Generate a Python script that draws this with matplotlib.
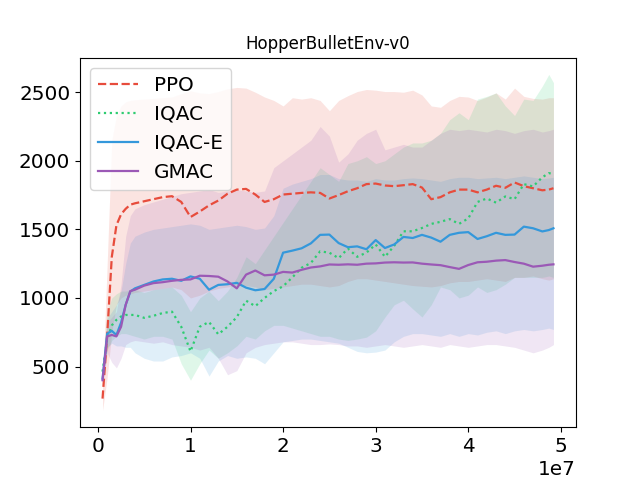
import numpy as np
import matplotlib
matplotlib.use("Agg")
import matplotlib.pyplot as plt

# x positions in millions of steps
x_m = [0.5, 1.0, 1.5, 2.0, 2.5, 3.0, 3.5, 4] + list(range(5, 49)) + [48.7, 49.2]

ppo_mean = [266, 729, 1300, 1530, 1610, 1650, 1680, 1690,
            1705, 1720, 1735, 1742, 1700, 1590, 1630, 1675, 1710, 1760, 1790, 1795, 1754, 1700, 1720, 1754,
            1760, 1766, 1770, 1766, 1725, 1750, 1778, 1800, 1830, 1834, 1820, 1815, 1822, 1830, 1805, 1720,
            1735, 1770, 1790, 1790, 1770, 1790, 1818, 1803, 1842, 1815, 1800, 1785, 1790, 1800]
ppo_low = [180, 420, 750, 950, 1000, 1020, 1030, 1040,
           1050, 1060, 1070, 1080, 1060, 1000, 1020, 1050, 1070, 1080, 1090, 1090, 1080, 1060, 1070, 1080,
           1090, 1100, 1100, 1090, 1080, 1090, 1120, 1140, 1140, 1130, 1120, 1110, 1100, 1090, 1085, 1080,
           1090, 1110, 1120, 1120, 1130, 1140, 1130, 1120, 1150, 1150, 1160, 1140, 1130, 1140]
ppo_high = [350, 1250, 2150, 2330, 2400, 2430, 2440, 2445,
            2450, 2455, 2460, 2465, 2490, 2510, 2495, 2490, 2505, 2525, 2535, 2530, 2500, 2465, 2440, 2400,
            2460, 2450, 2460, 2440, 2365, 2440, 2475, 2505, 2520, 2515, 2505, 2505, 2500, 2515, 2480, 2400,
            2390, 2440, 2470, 2465, 2440, 2465, 2495, 2450, 2530, 2470, 2455, 2450, 2460, 2460]

iqac_mean = [463, 700, 800, 840, 865, 876, 876, 876,
             855, 870, 890, 900, 790, 610, 790, 825, 735, 790, 860, 980, 940, 1000, 1050, 1085,
             1150, 1220, 1255, 1340, 1330, 1290, 1360, 1300, 1330, 1390, 1300, 1380, 1486, 1486, 1510, 1540,
             1555, 1575, 1540, 1580, 1700, 1725, 1695, 1740, 1720, 1830, 1813, 1880, 1910, 1905]
iqac_low = [420, 620, 690, 720, 740, 740, 730, 720,
            700, 720, 720, 700, 520, 400, 520, 620, 560, 600, 650, 720, 700, 760, 800, 800,
            780, 760, 740, 720, 720, 700, 690, 700, 714, 760, 860, 950, 983, 920, 861, 950,
            1080, 1060, 1000, 1020, 1080, 1040, 1060, 1100, 1150, 1150, 1150, 1150, 1160, 1150]
iqac_high = [500, 900, 1000, 1030, 1050, 1050, 1060, 1060,
             1040, 1060, 1070, 1080, 1020, 900, 1000, 1050, 980, 1050, 1150, 1300, 1250, 1350, 1450, 1550,
             1650, 1750, 1850, 1950, 1900, 1850, 1980, 2000, 2030, 1980, 2000, 2050, 2100, 2130, 2130, 2150,
             2200, 2300, 2350, 2300, 2450, 2470, 2495, 2400, 2330, 2450, 2440, 2545, 2630, 2570]

iqace_mean = [412, 740, 760, 730, 820, 950, 1047, 1070,
              1095, 1120, 1135, 1140, 1125, 1157, 1140, 1060, 1095, 1100, 1110, 1075, 1056, 1065, 1140, 1330,
              1345, 1362, 1398, 1460, 1462, 1400, 1370, 1376, 1355, 1422, 1364, 1390, 1445, 1437, 1460, 1440,
              1410, 1460, 1475, 1480, 1430, 1450, 1475, 1460, 1462, 1520, 1508, 1485, 1495, 1508]
iqace_low = [380, 640, 670, 650, 650, 640, 640, 600,
             560, 540, 540, 570, 580, 600, 560, 430, 540, 580, 560, 570, 560, 520, 600, 680,
             690, 700, 700, 690, 680, 670, 640, 610, 600, 605, 620, 680, 720, 740, 740, 730,
             720, 740, 720, 740, 730, 750, 760, 740, 760, 770, 760, 770, 780, 770]
iqace_high = [450, 850, 900, 950, 1050, 1250, 1400, 1450,
              1480, 1500, 1510, 1520, 1530, 1540, 1530, 1500, 1510, 1520, 1530, 1520, 1500, 1510, 1600, 1800,
              1830, 1850, 1870, 1900, 1900, 1870, 1860, 1860, 1850, 1870, 1860, 1860, 1870, 1875, 1870, 1860,
              1850, 1870, 1880, 1880, 1870, 1875, 1880, 1870, 1880, 1890, 1880, 1870, 1875, 1880]

gmac_mean = [400, 720, 730, 720, 790, 950, 1050, 1060,
             1090, 1108, 1115, 1125, 1132, 1135, 1162, 1160, 1155, 1120, 1070, 1170, 1200, 1165, 1170, 1190,
             1185, 1205, 1222, 1230, 1244, 1242, 1245, 1242, 1250, 1252, 1258, 1260, 1258, 1259, 1250, 1244,
             1239, 1225, 1212, 1240, 1260, 1264, 1272, 1276, 1262, 1250, 1228, 1235, 1242, 1245]
gmac_low = [350, 600, 530, 490, 560, 660, 680, 690,
            680, 670, 680, 660, 650, 640, 620, 640, 560, 440, 470, 600, 640, 660, 670, 680,
            680, 670, 660, 660, 665, 660, 650, 650, 640, 650, 660, 650, 640, 650, 660, 650,
            640, 660, 650, 640, 650, 660, 660, 650, 640, 620, 600, 620, 640, 660]
gmac_high = [430, 820, 860, 900, 1100, 1450, 1600, 1650,
             1680, 1700, 1720, 1740, 1760, 1770, 1780, 1790, 1770, 1780, 1790, 1780, 1770, 1780, 1950, 2000,
             2050, 2100, 2150, 2250, 2180, 1990, 2050, 2150, 2200, 2230, 2080, 2100, 2120, 2100, 2100, 2150,
             2200, 2230, 2220, 2230, 2220, 2210, 2230, 2220, 2200, 2220, 2230, 2210, 2220, 2230]

labels = ["PPO", "IQAC", "IQAC-E", "GMAC"]
colors = ["#e74c3c", "#2ecc71", "#3498db", "#9b59b6"]
styles = ["--", ":", "-", "-"]
means = [ppo_mean, iqac_mean, iqace_mean, gmac_mean]
lows = [ppo_low, iqac_low, iqace_low, gmac_low]
highs = [ppo_high, iqac_high, iqace_high, gmac_high]

x = np.array(x_m) * 1e6

fig, ax = plt.subplots(figsize=(6.4, 4.8), dpi=100)
for lab, c, ls, m, lo, hi in zip(labels, colors, styles, means, lows, highs):
    ax.fill_between(x, lo, hi, color=c, alpha=0.15, linewidth=0, zorder=1)
for lab, c, ls, m in zip(labels, colors, styles, means):
    ax.plot(x, m, color=c, linestyle=ls, linewidth=1.6, label=lab, zorder=2)

ax.set_title("HopperBulletEnv-v0", fontsize=12)
ax.tick_params(axis="both", labelsize="x-large")
ax.xaxis.get_offset_text().set_fontsize("x-large")
ax.legend(loc="upper left", fontsize="x-large")
fig.savefig("out.png", dpi=100)
